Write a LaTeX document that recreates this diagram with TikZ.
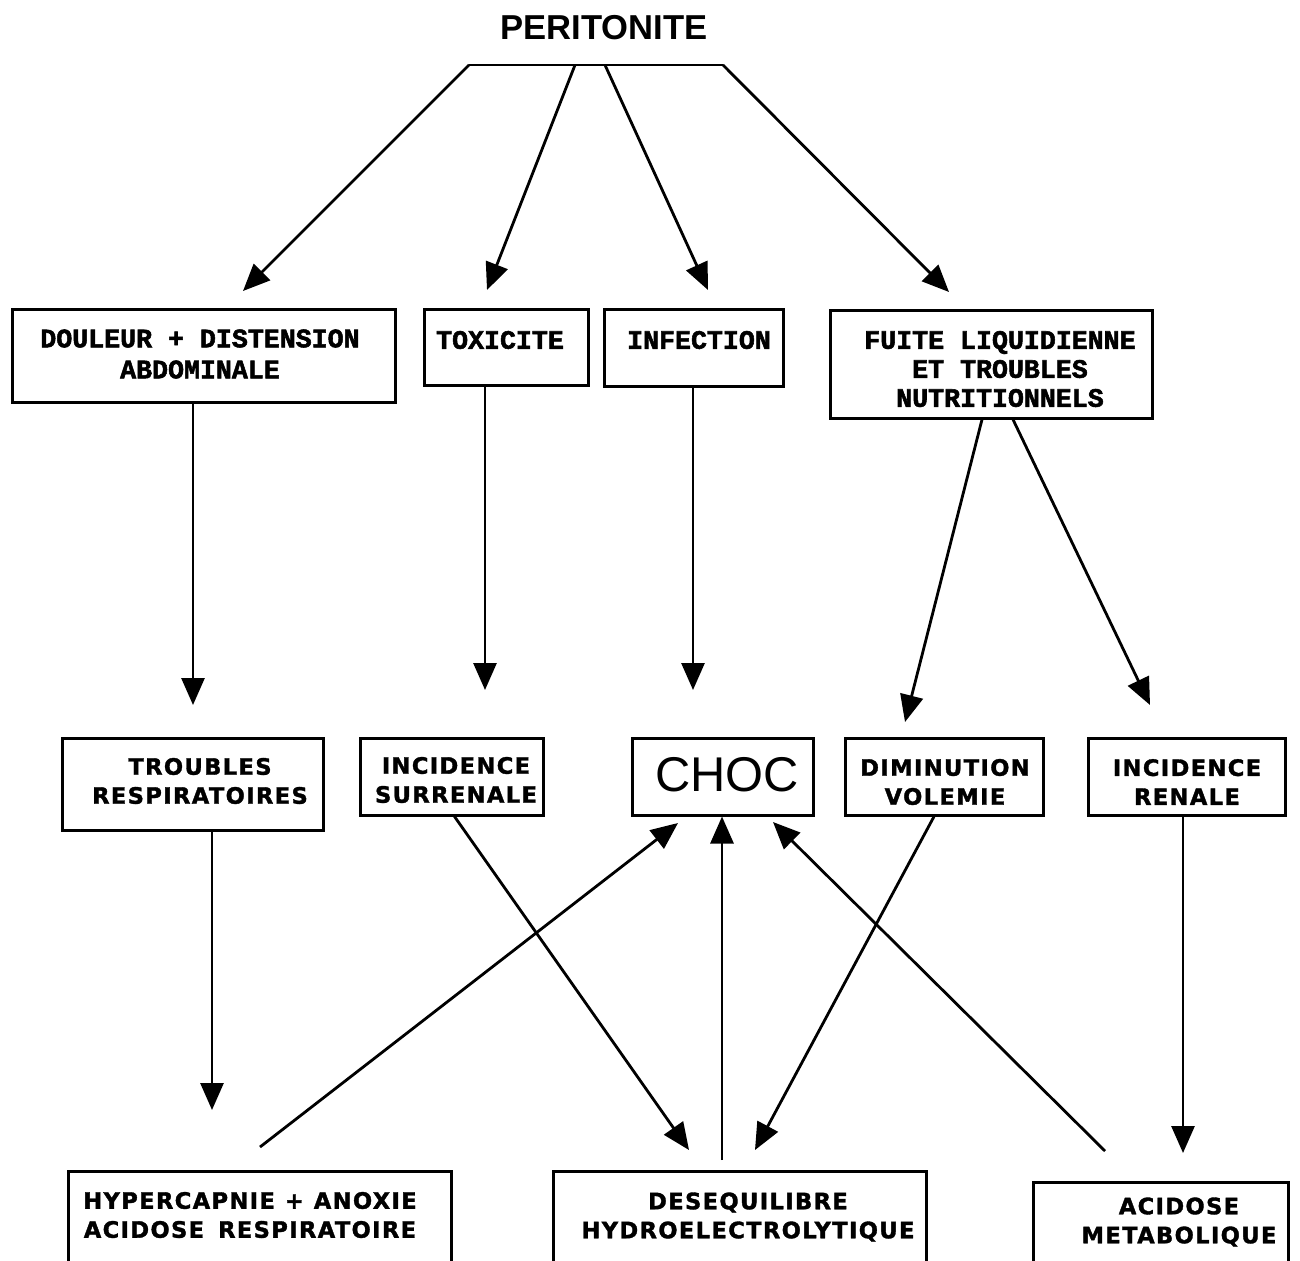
\documentclass[tikz,border=0pt]{standalone}
\usepackage{fontspec}
\setmainfont{Liberation Sans}
\newfontfamily\slabfont[FakeBold=2]{Liberation Mono Bold}
\newfontfamily\blkfont[LetterSpace=6,FakeBold=1.5]{DejaVu Sans Bold}
\usetikzlibrary{arrows.meta,fit}
\begin{document}
\begin{tikzpicture}[x=0.5pt,y=-0.5pt,
  box/.style={draw,line width=1.5pt,inner sep=0pt},
  arr/.style={line width=1.4pt,-{Triangle[length=13.5pt,width=11.5pt]}},
  conn/.style={line width=1.4pt,line cap=round},
  slab/.style={font=\slabfont\fontsize{13.3}{15.5}\selectfont,align=center,inner sep=0pt},
  blk/.style={font=\blkfont\fontsize{11.3}{14.5}\selectfont,align=center,inner sep=0pt},
  title/.style={font=\bfseries\fontsize{17.3}{20}\selectfont,inner sep=0pt},
  big/.style={font=\fontsize{24.4}{28}\selectfont,inner sep=0pt}
]
\useasboundingbox (0,0) rectangle (1300,1260);
\fill[white] (0,0) rectangle (1300,1260);
\clip (0,0) rectangle (1300,1260);

% title
\node[title] (per) at (604,28) {PERITONITE};

% boxes
\node[box,fit={(12,309) (395,402)}] (dou) {};
\node[box,fit={(424,309) (588,385)}] (tox) {};
\node[box,fit={(604,309) (783,386)}] (inf) {};
\node[box,fit={(830,310) (1152,418)}] (fui) {};
\node[box,fit={(62,738) (323,830)}] (trb) {};
\node[box,fit={(360,738) (543,815)}] (sur) {};
\node[box,fit={(632,738) (813,815)}] (choc) {};
\node[box,fit={(845,738) (1043,815)}] (dim) {};
\node[box,fit={(1088,738) (1285,815)}] (ren) {};
\node[box,fit={(68,1171) (451,1268)}] (hyp) {};
\node[box,fit={(553,1171) (926,1268)}] (des) {};
\node[box,fit={(1033,1182) (1288,1268)}] (aci) {};

% texts
\node[slab] (douT) at (200,354) {DOULEUR + DISTENSION\\ABDOMINALE};
\node[slab] (toxT) at (500,340) {TOXICITE};
\node[slab] (infT) at (699,340) {INFECTION};
\node[slab,font=\slabfont\fontsize{13.3}{14.5}\selectfont] (fuiT) at (1000,369) {FUITE LIQUIDIENNE\\ET TROUBLES\\NUTRITIONNELS};
\node[blk] (trbT) at (200,781) {TROUBLES\\RESPIRATOIRES};
\node[blk] (surT) at (456,780) {INCIDENCE\\SURRENALE};
\node[big] (chocT) at (727,775) {CHOC};
\node[blk] (dimT) at (945,782) {DIMINUTION\\VOLEMIE};
\node[blk] (renT) at (1187,782) {INCIDENCE\\RENALE};
\node[blk] (hypT) at (250,1215) {HYPERCAPNIE\hspace{5pt}+\hspace{5pt}ANOXIE\\ACIDOSE\hspace{7pt}RESPIRATOIRE};
\node[blk] (desT) at (748,1217) {DESEQUILIBRE\\HYDROELECTROLYTIQUE};
\node[blk] (aciT) at (1179,1222) {ACIDOSE\\METABOLIQUE};

% connector points
\coordinate (bL) at (469,65);
\coordinate (bA) at (575,65);
\coordinate (bB) at (605,65);
\coordinate (bR) at (723,65);
\coordinate (t1) at (243,291);
\coordinate (t2) at (487,290);
\coordinate (t3) at (708,290);
\coordinate (t4) at (949,292);
\coordinate (t5) at (193,705);
\coordinate (t6) at (485,690);
\coordinate (t7) at (693,690);
\coordinate (t8) at (905,722);
\coordinate (t9) at (1150,705);
\coordinate (t10) at (212,1110);
\coordinate (t11) at (689,1150);
\coordinate (t12) at (755,1150);
\coordinate (t13) at (1183,1153);
\coordinate (s14) at (260,1147);
\coordinate (t14) at (678,823);
\coordinate (s15) at (722,1160);
\coordinate (s16) at (1105,1151);
\coordinate (t16) at (773,822);

% connectors
\draw[conn] (bL) -- (bR);
\draw[arr] (bL) -- (t1);
\draw[arr] (bA) -- (t2);
\draw[arr] (bB) -- (t3);
\draw[arr] (bR) -- (t4);
\draw[arr] (dou.south -| t5) -- (t5);
\draw[arr] (tox.south -| t6) -- (t6);
\draw[arr] (inf.south -| t7) -- (t7);
\draw[arr] ([xshift=-4.5pt]fui.south) -- (t8);
\draw[arr] ([xshift=11pt]fui.south) -- (t9);
\draw[arr] (trb.south -| t10) -- (t10);
\draw[arr] ([xshift=1.5pt]sur.south) -- (t11);
\draw[arr] ([xshift=-5pt]dim.south) -- (t12);
\draw[arr] (ren.south -| t13) -- (t13);
\draw[arr] (s14) -- (t14);
\draw[arr] (s15) -- (choc.south -| s15);
\draw[arr] (s16) -- (t16);
\end{tikzpicture}
\end{document}
